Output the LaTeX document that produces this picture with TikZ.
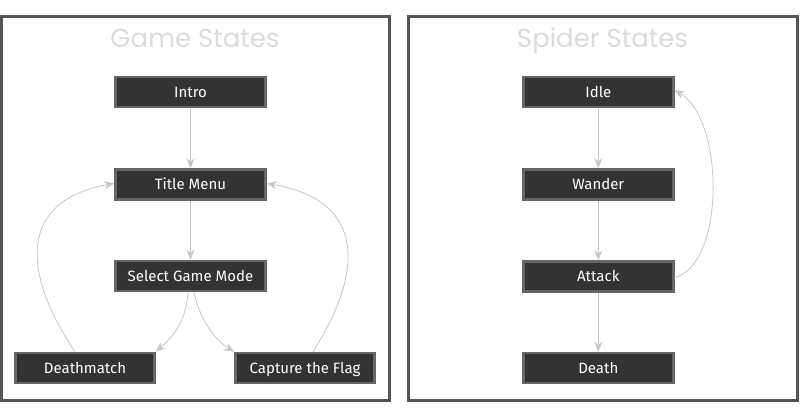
\documentclass[tikz,border=0pt]{standalone}
\usepackage{fontspec}
\setmainfont{Fira Sans}
\newfontfamily\titlefont{Poppins}
\usetikzlibrary{arrows.meta}
\definecolor{frame}{HTML}{555555}
\definecolor{boxfill}{HTML}{333333}
\definecolor{boxedge}{HTML}{666666}
\definecolor{edgec}{HTML}{C8C8C8}
\definecolor{titlec}{HTML}{DCDCDC}
\begin{document}
\begin{tikzpicture}[x=1pt,y=-1pt,
  panel/.style={draw=frame,line width=3pt},
  state/.style={draw=boxedge,fill=boxfill,line width=2.5pt,minimum width=150pt,minimum height=30pt,inner sep=0pt,text height=12.5pt,text depth=2pt,text=white,font=\fontsize{15}{17}\selectfont},
  ttl/.style={text=titlec,anchor=base,font=\titlefont\fontsize{26}{28}\selectfont},
  link/.style={draw=edgec,line width=0.8pt,-{Stealth[length=10pt,width=8pt]}}]
\useasboundingbox (0,0) rectangle (800,416);
\draw[panel] (1.5,16.5) rectangle (389.5,400.5);
\draw[panel] (408.5,16.5) rectangle (797.5,400.5);
\node[ttl] (t1) at (195,47) {Game States};
\node[ttl] (t2) at (602.5,47) {Spider States};
% game states
\node[state] (intro) at (190.5,92) {Intro};
\node[state] (menu) at (190.5,184.5) {Title Menu};
\node[state] (select) at (190.5,276) {Select Game Mode};
\node[state,minimum width=139pt] (dm) at (85,368) {Deathmatch};
\node[state,minimum width=139pt] (ctf) at (305,368) {Capture the Flag};
\draw[link] (intro) -- (menu);
\draw[link] (menu) -- (select);
\draw[link] ([xshift=-2.5pt]select.south) .. controls (186,320) and (175,335) .. (dm.north east);
\draw[link] ([xshift=3.5pt]select.south) .. controls (200,320) and (215,340) .. (ctf.north west);
\draw[link] ([xshift=-10pt]dm.north) .. controls (20,270) and (20,200) .. ([yshift=1pt]menu.west);
\draw[link] ([xshift=8pt]ctf.north) .. controls (365,270) and (365,200) .. ([yshift=1pt]menu.east);
% spider states
\node[state] (idle) at (598.3,92) {Idle};
\node[state] (wander) at (598.3,184.5) {Wander};
\node[state] (attack) at (598.3,276.5) {Attack};
\node[state] (death) at (598.3,368) {Death};
\draw[link] (idle) -- (wander);
\draw[link] (wander) -- (attack);
\draw[link] (attack) -- (death);
\draw[link] ([yshift=-1pt]attack.east) .. controls (725,265) and (725,120) .. ([yshift=2pt]idle.east);
\end{tikzpicture}
\end{document}
